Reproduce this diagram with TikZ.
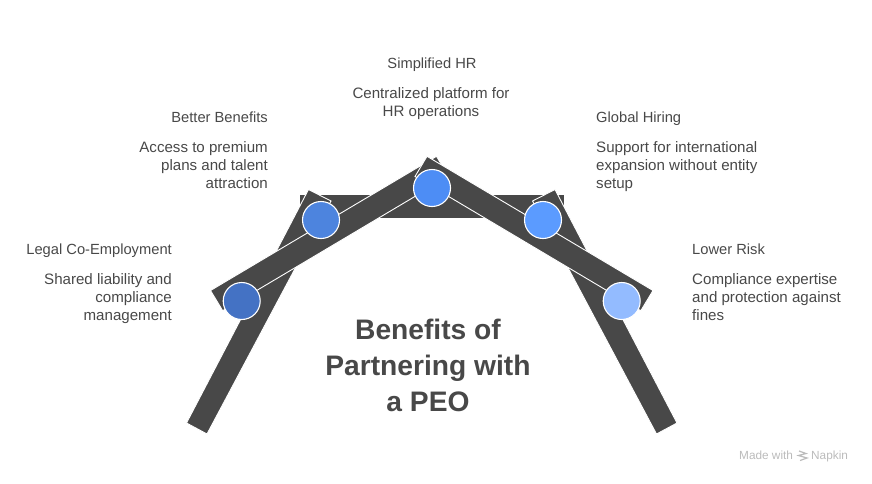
\documentclass[tikz,border=0pt]{standalone}
\usepackage{fontspec}
\setmainfont{Liberation Sans}
\definecolor{barcol}{HTML}{484848}
\definecolor{textcol}{HTML}{484848}
\definecolor{markcol}{HTML}{BBBBBB}
\definecolor{dota}{HTML}{4472C4}
\definecolor{dotb}{HTML}{4D84DE}
\definecolor{dotc}{HTML}{4D8DF5}
\definecolor{dotd}{HTML}{5B9BFF}
\definecolor{dote}{HTML}{93BBFF}
\begin{document}
\begin{tikzpicture}[x=1pt, y=-1pt,
    every node/.style={inner sep=0pt, text=textcol},
    bar/.style={draw=white, line width=0.9pt, fill=barcol, line join=miter},
    dot/.style={circle, draw=white, line width=1.1pt, minimum size=37pt},
    head/.style={font=\fontsize{14.7}{18}\selectfont},
    desc/.style={font=\fontsize{15.1}{18}\selectfont},
    title/.style={font=\fontsize{28.2}{36}\selectfont\bfseries, align=center},
    wmark/.style={font=\fontsize{11.8}{13}\selectfont, text=markcol, anchor=west}]
    \useasboundingbox (0,0) rectangle (872,483);

    % Crossbar
    \fill[barcol] (300,195) rectangle (564,218);

    % Legs
    \draw[bar] (186.5,423) -- (207,434) -- (331,201) -- (308.5,189.5) -- cycle;
    \draw[bar] (677,423) -- (656.5,434) -- (532.5,201) -- (555,189.5) -- cycle;

    % Roof
    \draw[bar] (210.5,290.5) -- (222.7,310.7) -- (448.5,176.5) -- (436.5,156.3) -- cycle;
    \draw[bar] (653,290.5) -- (640.8,310.7) -- (415,176.5) -- (427,156.3) -- cycle;

    % Circles
    \node[dot, fill=dota] (legal) at (241.7,301) {};
    \node[dot, fill=dotb] (benefits) at (321,220) {};
    \node[dot, fill=dotc] (simple) at (432,188) {};
    \node[dot, fill=dotd] (global) at (543,220) {};
    \node[dot, fill=dote] (risk) at (621.7,301) {};

    % Left labels
    \node[head, anchor=east] (legalhead) at (172,251) {Legal Co-Employment};
    \node[desc, align=right, anchor=east] (legaldesc) at (172,299) {Shared liability and\\compliance\\management};
    \node[head, anchor=east] (benefitshead) at (268,117) {Better Benefits};
    \node[desc, align=right, anchor=east] (benefitsdesc) at (268,165) {Access to premium\\plans and talent\\attraction};

    % Top labels
    \node[head] (simplehead) at (432,65) {Simplified HR};
    \node[desc, align=center] (simpledesc) at (431,104) {Centralized platform for\\HR operations};

    % Right labels
    \node[head, anchor=west] (globalhead) at (596,119) {Global Hiring};
    \node[desc, align=left, anchor=west] (globaldesc) at (596,167) {Support for international\\expansion without entity\\setup};
    \node[head, anchor=west] (riskhead) at (692,249) {Lower Risk};
    \node[desc, align=left, anchor=west] (riskdesc) at (692,297) {Compliance expertise\\and protection against\\fines};

    % Title
    \node[title] (heading) at (428,365) {Benefits of\\Partnering with\\a PEO};

    % Watermark
    \node[wmark] (made) at (739,455) {Made with};
    \node[wmark] (napkin) at (811,456) {Napkin};
    \draw[markcol, line width=1.2pt] (799,451) -- (806,453.5) -- (798.5,455.5) -- (807,458) -- (800,460.5);
\end{tikzpicture}
\end{document}
